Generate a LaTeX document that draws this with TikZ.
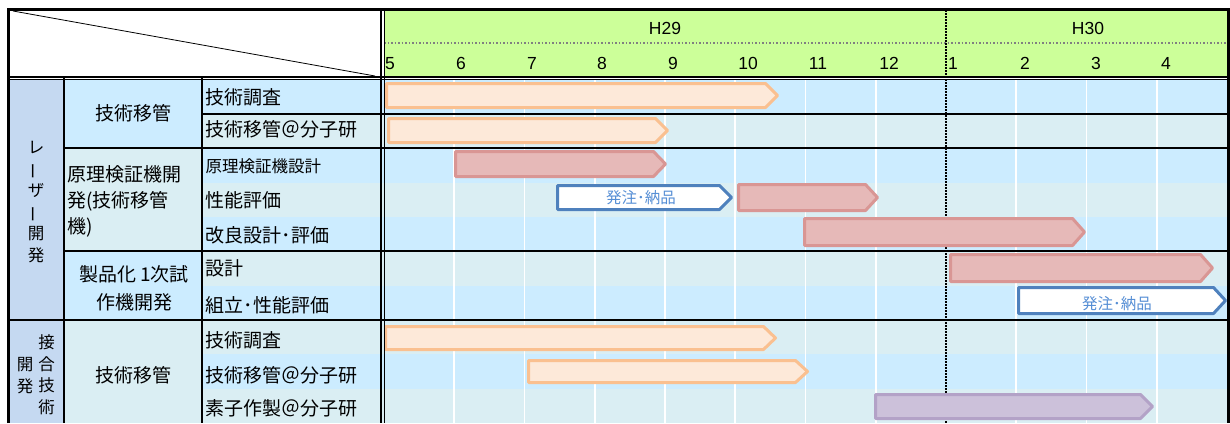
\documentclass[tikz,border=0pt]{standalone}
\usepackage{fontspec}
\setmainfont{Liberation Sans}
\newfontfamily\jp{Noto Sans CJK JP}
\definecolor{rowA}{HTML}{CCECFF}
\definecolor{rowB}{HTML}{DAEEF3}
\definecolor{colOne}{HTML}{C5D9F1}
\definecolor{hdr}{HTML}{CCFF99}
\definecolor{orF}{HTML}{FDE9D9}
\definecolor{orS}{HTML}{FAC090}
\definecolor{rdF}{HTML}{E6B9B8}
\definecolor{rdS}{HTML}{D99694}
\definecolor{buS}{HTML}{4F81BD}
\definecolor{buT}{HTML}{558ED5}
\definecolor{puF}{HTML}{CCC1DA}
\definecolor{puS}{HTML}{B3A2C7}
\newcommand\gbar[5]{\draw[#1] (#2,#4) -- ({#3-12},#4) -- (#3,{(#4+#5)/2}) -- ({#3-12},#5) -- (#2,#5) -- cycle;}
\begin{document}
\begin{tikzpicture}[x=1pt,y=-1pt,
  orbar/.style={fill=orF,draw=orS,line width=3pt,line join=round},
  rdbar/.style={fill=rdF,draw=rdS,line width=3pt,line join=round},
  bubar/.style={fill=white,draw=buS,line width=3pt,line join=round},
  pubar/.style={fill=puF,draw=puS,line width=3pt,line join=round},
  blk/.style={draw=black,line width=1.8pt},
  lab/.style={font=\jp\fontsize{19}{22}\selectfont,inner sep=0pt,anchor=west},
  grp/.style={font=\jp\fontsize{19}{22}\selectfont,inner sep=0pt},
  mon/.style={font=\fontsize{17.5}{20}\selectfont,inner sep=0pt,anchor=base},
  vtx/.style={font=\jp\fontsize{16.5}{21.5}\selectfont,align=center,inner sep=0pt},
  btxt/.style={font=\jp\fontsize{15.5}{18}\selectfont,text=buT,inner sep=0pt}]
\useasboundingbox (0,0) rectangle (1230,423);
% header
\fill[white] (9,9) rectangle (381,77);
\fill[hdr] (384,10) rectangle (1227,77);
\draw[black,line width=0.8pt] (13,11) -- (375,76);
\draw[gray,dotted,line width=1.5pt] (384,43) -- (1227,43);
% body fills
\fill[colOne] (9,79.5) rectangle (64,423);
\foreach \i in {0,...,9}{
  \pgfmathtruncatemacro\odd{mod(\i,2)}
  \ifnum\odd=0 \fill[rowA] (202,{79.5+34.35*\i}) rectangle (1227,{79.5+34.35*(\i+1)});
  \else \fill[rowB] (202,{79.5+34.35*\i}) rectangle (1227,{79.5+34.35*(\i+1)}); \fi}
\fill[rowA] (64,79.5) rectangle (202,148.2);
\fill[rowB] (64,148.2) rectangle (202,251.2);
\fill[rowA] (64,251.2) rectangle (202,319.9);
\fill[rowB] (64,319.9) rectangle (202,423);
% white grid
\foreach \k in {1,2,3,4,5,6,7,9,10,11}{
  \draw[white,line width=1.8pt] ({384+70.25*\k},80) -- ({384+70.25*\k},423);}
% year divider
\draw[black,line width=1.6pt,dash pattern=on 1.6pt off 1.4pt] (946,10) -- (946,423);
% bars
\gbar{orbar}{386.5}{777.5}{83.5}{107.5}
\gbar{orbar}{388.5}{667.5}{118.5}{142.5}
\gbar{rdbar}{455.5}{665.5}{151.5}{176.5}
\gbar{bubar}{557.5}{731.5}{185.5}{209.5}
\gbar{rdbar}{738.5}{877.5}{184.5}{210.5}
\gbar{rdbar}{804.5}{1084.5}{218.5}{245.5}
\gbar{rdbar}{950.5}{1212.5}{254.5}{281.5}
\gbar{bubar}{1018.5}{1225.5}{287.5}{313.5}
\gbar{orbar}{385.5}{775.5}{326.5}{349.5}
\gbar{orbar}{528.5}{807.5}{360.5}{382.5}
\gbar{pubar}{875.5}{1152.5}{394.5}{418.5}
\node[btxt] (b1) at (641,198) {発注･納品};
\node[btxt] (b2) at (1117,304) {発注･納品};
% black rules
\draw[blk] (202,113.8) -- (1227,113.8);
\draw[blk] (64,148.2) -- (1227,148.2);
\draw[blk] (64,251.2) -- (1227,251.2);
\draw[blk] (9,319.9) -- (1227,319.9);
\draw[blk] (64,78) -- (64,423);
\draw[blk] (202,78) -- (202,423);
\draw[black,line width=2pt] (381.3,9) -- (381.3,423);
\draw[black,line width=0.9pt] (384,9) -- (384,423);
\draw[black,line width=2pt] (8,77) -- (1228,77);
\draw[black,line width=0.9pt] (8,79.8) -- (1228,79.8);
\draw[black,line width=3pt] (8.3,423) -- (8.3,9) -- (1228.3,9) -- (1228.3,423);
% header text
\node[mon] (h29) at (665,34) {H29};
\node[mon] (h30) at (1088,34) {H30};
\node[mon] (m5) at (390,69) {5};
\node[mon] (m6) at (461,69) {6};
\node[mon] (m7) at (532,69) {7};
\node[mon] (m8) at (602,69) {8};
\node[mon] (m9) at (673,69) {9};
\node[mon] (m10) at (748,69) {10};
\node[mon] (m11) at (818,69) {11};
\node[mon] (m12) at (889,69) {12};
\node[mon] (m1) at (953,69) {1};
\node[mon] (m2) at (1025,69) {2};
\node[mon] (m3) at (1096,69) {3};
\node[mon] (m4) at (1166,69) {4};
% column 1
\node[vtx] (g1) at (36,202)
  {レ\\\rotatebox[origin=c]{90}{ー}\\ザ\\\rotatebox[origin=c]{90}{ー}\\開\\発};
\node[vtx] (g2r) at (46.5,374.5) {接\\合\\技\\術};
\node[vtx] (g2l) at (25,375.5) {開\\発};
% column 2
\node[grp] (s1) at (133.5,113.5) {技術移管};
\node[grp,anchor=west,align=left,font=\jp\fontsize{19}{26}\selectfont] (s2) at (67,201.5) {原理検証機開\\発(技術移管\\機)};
\node[grp,align=center,font=\jp\fontsize{19}{28}\selectfont] (s3) at (134,288.5) {製品化 1次試\\作機開発};
\node[grp] (s4) at (133.5,375.5) {技術移管};
% column 3
\node[lab] (l1) at (205.5,97) {技術調査};
\node[lab] (l2) at (205.5,129.5) {技術移管＠分子研};
\node[lab,font=\jp\fontsize{16.5}{20}\selectfont] (l3) at (205.5,166) {原理検証機設計};
\node[lab] (l4) at (205.5,200) {性能評価};
\node[lab] (l5) at (205.5,235) {改良設計･評価};
\node[lab] (l6) at (205.5,268.5) {設計};
\node[lab] (l7) at (205.5,305) {組立･性能評価};
\node[lab] (l8) at (205.5,340.5) {技術調査};
\node[lab] (l9) at (205.5,375) {技術移管＠分子研};
\node[lab] (l10) at (205.5,408.5) {素子作製＠分子研};
\end{tikzpicture}
\end{document}
